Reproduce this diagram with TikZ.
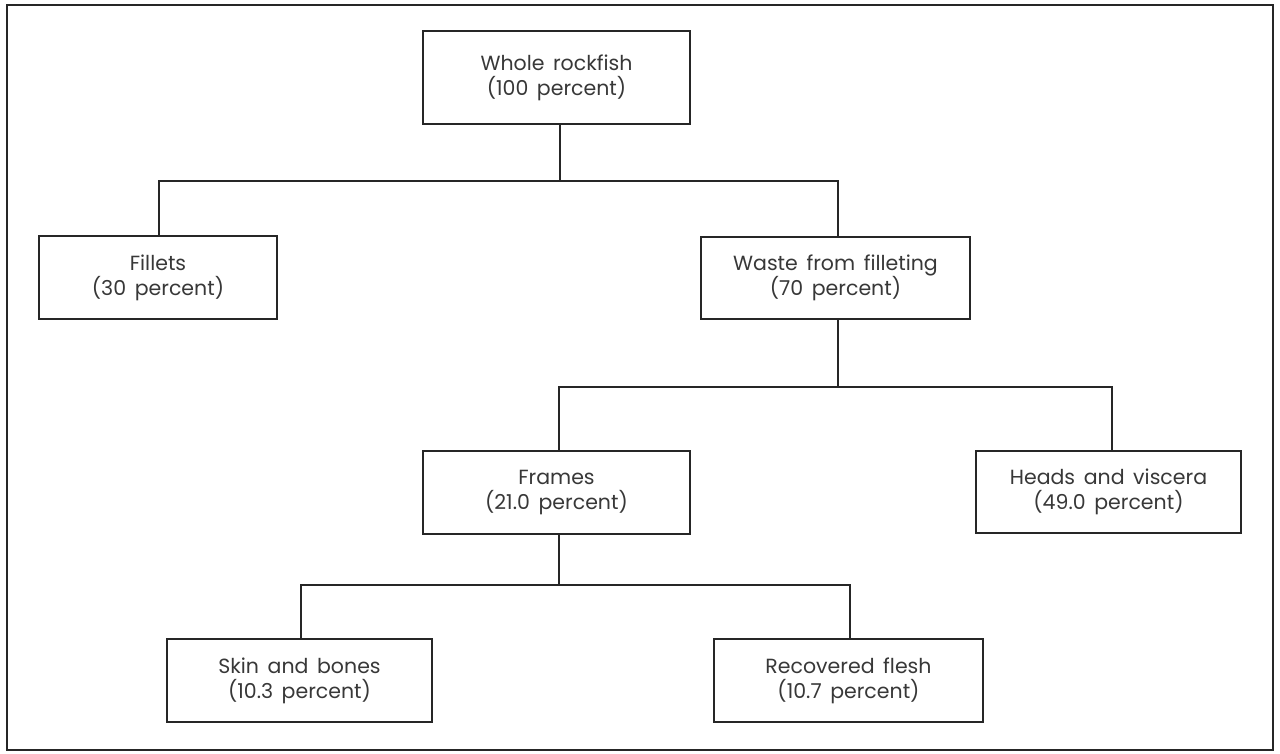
\documentclass[tikz,border=0pt]{standalone}
\usepackage{fontspec}
\setmainfont{Poppins}
\newcommand{\boxfont}{\fontsize{20.5}{25}\selectfont\spaceskip=0.42em plus 0.1em\relax}
\begin{document}
\begin{tikzpicture}[x=1pt,y=-1pt,
  box/.style={draw=black!85, line width=1.6pt, align=center, inner sep=0pt,
    font=\boxfont, text=black!78},
  link/.style={draw=black!85, line width=1.3pt}]
\useasboundingbox[fill=white] (0,0) rectangle (1280,753);
\draw[black!85, line width=2pt] (7,5) rectangle (1273,750);
\node[box, minimum width=267, minimum height=93] (whole) at (556.5,77.5) {Whole rockfish\\(100 percent)};
\node[box, minimum width=238, minimum height=83] (fillets) at (158,277.5) {Fillets\\(30 percent)};
\node[box, minimum width=269, minimum height=82] (waste) at (835.5,278) {Waste from filleting\\(70 percent)};
\node[box, minimum width=267, minimum height=83] (frames) at (556.5,492.5) {Frames\\(21.0 percent)};
\node[box, minimum width=265, minimum height=82] (heads) at (1108.5,492) {Heads and viscera\\(49.0 percent)};
\node[box, minimum width=265, minimum height=83] (skin) at (299.5,680.5) {Skin and bones\\(10.3 percent)};
\node[box, minimum width=269, minimum height=83] (flesh) at (848.5,680.5) {Recovered flesh\\(10.7 percent)};
\coordinate (j1) at (560,181);
\coordinate (c1) at (159,181);
\coordinate (c2) at (838,181);
\coordinate (j2) at (838,387);
\coordinate (c3) at (559,387);
\coordinate (c4) at (1112,387);
\coordinate (j3) at (559,585);
\coordinate (c5) at (301,585);
\coordinate (c6) at (850,585);
\draw[link] (whole.south -| j1) -- (j1);
\draw[link] (fillets.north -| c1) -- (c1) -- (c2) -- (waste.north -| c2);
\draw[link] (waste.south -| j2) -- (j2);
\draw[link] (frames.north -| c3) -- (c3) -- (c4) -- (heads.north -| c4);
\draw[link] (frames.south -| j3) -- (j3);
\draw[link] (skin.north -| c5) -- (c5) -- (c6) -- (flesh.north -| c6);
\end{tikzpicture}
\end{document}
